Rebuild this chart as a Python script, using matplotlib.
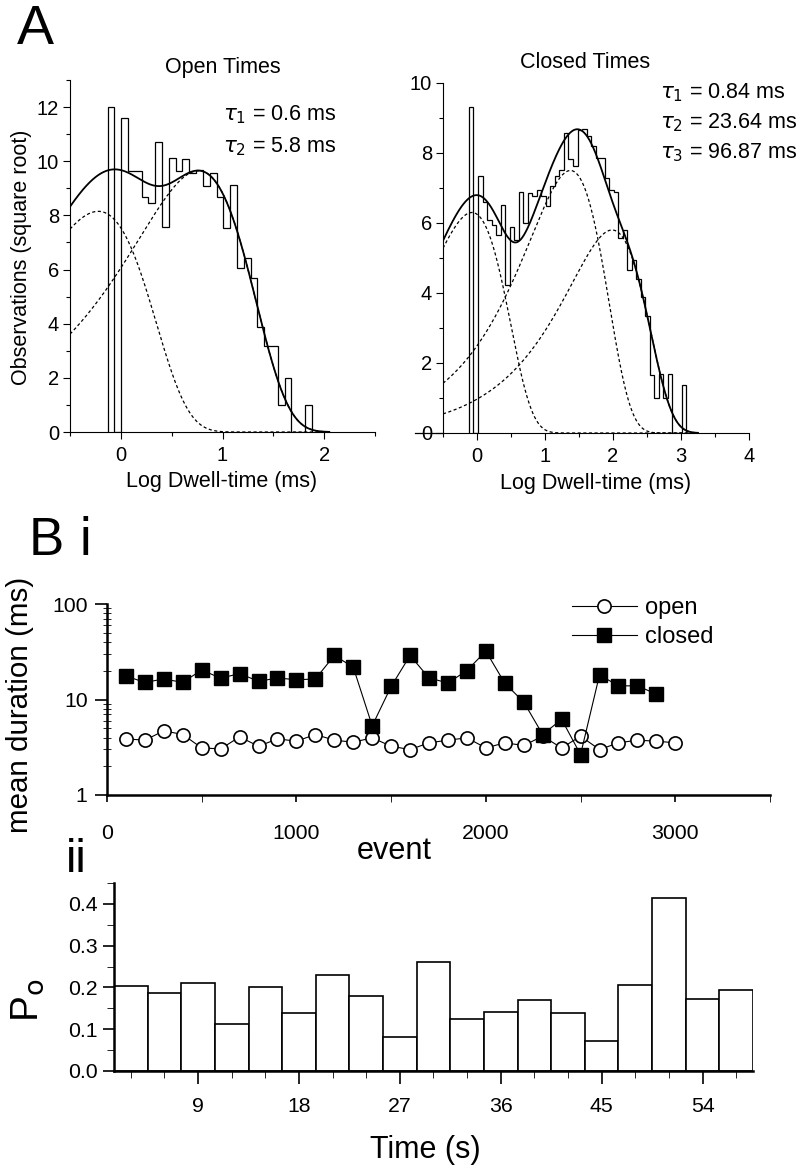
import numpy as np
import matplotlib
matplotlib.use('Agg')
import matplotlib.pyplot as plt
from matplotlib import font_manager
from matplotlib.ticker import MultipleLocator, FixedLocator, LogLocator, FuncFormatter, NullFormatter


def have_font(name):
    try:
        font_manager.findfont(font_manager.FontProperties(family=name),
                              fallback_to_default=False)
        return True
    except ValueError:
        return False


SANS = 'Liberation Sans' if have_font('Liberation Sans') else 'DejaVu Sans'
if have_font('Liberation Sans Narrow'):
    NARROW, nscale = 'Liberation Sans Narrow', 1.0
else:
    NARROW, nscale = SANS, 0.85

# ---- panel A: dwell-time histograms (square-root ordinate, log10 ms bins)
open_bin_start = -0.131
open_bin_width = 0.067
open_counts = [12.0, 0, 11.6, 9.65, 9.65, 8.67, 8.44, 10.70, 7.58, 10.13,
               9.65, 10.07, 9.55, 9.67, 9.10, 9.58, 8.68, 7.52, 9.12, 6.04,
               6.41, 5.67, 3.89, 3.17, 3.17, 0.99, 1.98, 0, 0, 0.99]
open_tau = [0.6, 5.8]
open_peak = [8.15, 9.65]

closed_bin_start = -0.118
closed_bin_width = 0.0665
closed_counts = [9.31, 0, 7.33, 6.6, 6.1, 5.95, 5.66, 6.51, 4.24, 5.89,
                 5.51, 6.9, 6.0, 6.86, 6.76, 6.93, 6.76, 6.48, 7.05, 7.33,
                 7.52, 8.57, 7.82, 7.63, 8.66, 8.68, 8.5, 8.2, 7.85, 7.85,
                 7.28, 6.94, 6.9, 5.56, 5.8, 4.66, 4.94, 4.4, 3.9, 3.35,
                 1.65, 1.0, 1.7, 1.0, 1.7, 0, 0, 1.37]
closed_tau = [0.84, 23.64, 96.87]
closed_peak = [6.3, 7.5, 5.8]

# ---- panel B i: mean durations per 100 events
open_events = [100, 200, 300, 400, 500, 600, 700, 800, 900, 1000,
               1100, 1200, 1300, 1400, 1500, 1600, 1700, 1800, 1900, 2000,
               2100, 2200, 2300, 2400, 2500, 2600, 2700, 2800, 2900, 3000]
open_mean = [3.87, 3.75, 4.7, 4.3, 3.11, 3.04, 4.06, 3.24, 3.87, 3.66,
             4.3, 3.75, 3.57, 3.97, 3.24, 2.99, 3.52, 3.75, 3.97, 3.11,
             3.52, 3.3, 4.13, 3.11, 4.13, 2.99, 3.52, 3.75, 3.66, 3.52]
closed_events = open_events[:-1]
closed_mean = [17.6, 15.1, 16.4, 15.1, 20.4, 16.7, 18.7, 15.5, 16.8, 16.1,
               16.4, 28.9, 21.8, 5.3, 13.7, 28.9, 16.8, 14.9, 20.1, 32.1,
               14.8, 9.4, 4.3, 6.2, 2.65, 18.1, 13.9, 13.9, 11.4]

# ---- panel B ii: open probability per 3 s segment
po_time = [3, 6, 9, 12, 15, 18, 21, 24, 27, 30, 33, 36, 39, 42, 45, 48, 51, 54, 57]
po_value = [0.203, 0.187, 0.210, 0.112, 0.200, 0.139, 0.229, 0.180, 0.082, 0.261,
            0.124, 0.142, 0.171, 0.139, 0.073, 0.207, 0.414, 0.173, 0.193]

W, H = 798, 1170
fig = plt.figure(figsize=(W / 100, H / 100), dpi=100)


def fx(px):
    return px / W


def fy(py):
    return 1 - py / H


def axes_px(x0, y0, x1, y1):
    return fig.add_axes([x0 / W, 1 - y1 / H, (x1 - x0) / W, (y1 - y0) / H])


def component(x, tau, peak):
    u = 10.0 ** x / tau
    return peak * np.sqrt(u * np.exp(1.0 - u))


def draw_dwell(ax, start, width, counts, taus, peaks, xmax):
    edges = start + width * np.arange(len(counts) + 1)
    ax.stairs(counts, edges, baseline=0, fill=False, color='k', lw=0.9)
    xf = np.linspace(-0.5, xmax, 600)
    comps = [component(xf, t, p) for t, p in zip(taus, peaks)]
    for c in comps:
        ax.plot(xf, c, color='k', lw=0.9, ls=(0, (2.5, 2)))
    ax.plot(xf, np.sqrt(np.sum(np.square(comps), axis=0)), color='k', lw=1.3)
    for s in ('top', 'right'):
        ax.spines[s].set_visible(False)
    ax.tick_params(which='both', direction='out', labelsize=14.5,
                   labelfontfamily=SANS, width=0.8)
    ax.tick_params(which='major', length=5, pad=3)
    ax.tick_params(which='minor', length=3)
    ax.tick_params(axis='x', pad=5)
    ax.xaxis.set_minor_locator(MultipleLocator(0.5))
    ax.yaxis.set_major_locator(MultipleLocator(2))
    ax.yaxis.set_minor_locator(MultipleLocator(1))


# ---------- A, open times
axA1 = axes_px(70, 80, 375, 432)
draw_dwell(axA1, open_bin_start, open_bin_width, open_counts, open_tau, open_peak, 2.05)
axA1.set_xlim(-0.5, 2.5)
axA1.set_ylim(0, 13)
axA1.xaxis.set_major_locator(FixedLocator([0, 1, 2]))

# ---------- A, closed times
axA2 = axes_px(443, 83, 749, 433)
draw_dwell(axA2, closed_bin_start, closed_bin_width, closed_counts, closed_tau, closed_peak, 3.25)
axA2.set_xlim(-0.5, 4)
axA2.set_ylim(0, 10)
axA2.xaxis.set_major_locator(MultipleLocator(1))
axA2.plot([-0.09, 0], [0, 0], color='k', lw=0.9, transform=axA2.transAxes, clip_on=False)

fig.text(fx(35), fy(30), 'A', fontsize=40, family=SANS, ha='center', va='center')
fig.text(fx(223), fy(68), 'Open Times', fontsize=15.5, family=SANS, ha='center', va='center')
fig.text(fx(585), fy(62), 'Closed Times', fontsize=15.5, family=SANS, ha='center', va='center')
fig.text(fx(223), fy(115), r'$\tau_1$ = 0.6 ms', fontsize=15.5, family=SANS, va='center')
fig.text(fx(223), fy(147), r'$\tau_2$ = 5.8 ms', fontsize=15.5, family=SANS, va='center')
fig.text(fx(660), fy(93), r'$\tau_1$ = 0.84 ms', fontsize=15.5, family=SANS, va='center')
fig.text(fx(660), fy(123), r'$\tau_2$ = 23.64 ms', fontsize=15.5, family=SANS, va='center')
fig.text(fx(660), fy(153), r'$\tau_3$ = 96.87 ms', fontsize=15.5, family=SANS, va='center')
fig.text(fx(22), fy(257), 'Observations (square root)', rotation=90, fontsize=15.5,
         family=SANS, ha='center', va='center')
fig.text(fx(222), fy(482), 'Log Dwell-time (ms)', fontsize=15.5, family=SANS,
         ha='center', va='center')
fig.text(fx(596), fy(484), 'Log Dwell-time (ms)', fontsize=15.5, family=SANS,
         ha='center', va='center')

# ---------- B i
axB1 = axes_px(107, 604, 770, 795)
axB1.plot(open_events, open_mean, color='k', lw=0.8, marker='o', ms=9.5,
          mfc='white', mec='k', mew=1.2, label='open')
axB1.plot(closed_events, closed_mean, color='k', lw=0.8, marker='s', ms=9.5,
          mfc='k', mec='k', label='closed')
axB1.set_yscale('log')
axB1.set_xlim(0, 3500)
axB1.set_ylim(1, 100)
axB1.xaxis.set_major_locator(MultipleLocator(1000))
axB1.xaxis.set_minor_locator(MultipleLocator(500))
axB1.yaxis.set_major_locator(LogLocator(base=10))
axB1.yaxis.set_minor_locator(LogLocator(base=10, subs=np.arange(2, 10)))
axB1.yaxis.set_major_formatter(FuncFormatter(lambda v, _: f'{v:g}'))
axB1.yaxis.set_minor_formatter(NullFormatter())
for s in ('top', 'right'):
    axB1.spines[s].set_visible(False)
for s in ('left', 'bottom'):
    axB1.spines[s].set_linewidth(1.8)
axB1.tick_params(labelsize=18 * nscale, labelfontfamily=NARROW, width=1.2)
axB1.tick_params(axis='y', which='major', direction='out', length=9, pad=5)
axB1.tick_params(axis='y', which='minor', direction='inout', length=6)
axB1.tick_params(axis='x', which='both', direction='out', length=5, pad=16)
axB1.legend(loc='upper left', bbox_to_anchor=(fx(572), fy(597)),
            bbox_transform=fig.transFigure, frameon=False, borderpad=0,
            borderaxespad=0, handlelength=2.75, handletextpad=0.35,
            labelspacing=0.3, numpoints=1,
            prop={'family': NARROW, 'size': 20 * nscale})

fig.text(fx(46), fy(541), 'B', fontsize=38, family=NARROW, ha='center', va='center')
fig.text(fx(85), fy(541), 'i', fontsize=38, family=NARROW, ha='center', va='center')
fig.text(fx(20), fy(705), 'mean duration (ms)', rotation=90, fontsize=25 * nscale,
         family=NARROW, ha='center', va='center')
fig.text(fx(394), fy(851), 'event', fontsize=26 * nscale, family=NARROW,
         ha='center', va='center')

# ---------- B ii
axB2 = axes_px(114, 883, 753, 1071)
axB2.bar(po_time, po_value, width=3, color='white', edgecolor='k', linewidth=1.2)
axB2.set_xlim(1.5, 58.5)
axB2.set_ylim(0, 0.45)
axB2.xaxis.set_major_locator(FixedLocator([9, 18, 27, 36, 45, 54]))
axB2.xaxis.set_minor_locator(MultipleLocator(3))
axB2.yaxis.set_major_locator(MultipleLocator(0.1))
axB2.yaxis.set_minor_locator(MultipleLocator(0.05))
axB2.yaxis.set_major_formatter(FuncFormatter(lambda v, _: f'{v:.1f}'))
for s in ('top', 'right'):
    axB2.spines[s].set_visible(False)
for s in ('left', 'bottom'):
    axB2.spines[s].set_linewidth(1.8)
axB2.tick_params(labelsize=18 * nscale, labelfontfamily=NARROW, width=1.2, direction='out')
axB2.tick_params(axis='x', which='major', length=9, pad=10)
axB2.tick_params(axis='x', which='minor', length=5)
axB2.tick_params(axis='y', which='major', length=8, pad=4)
axB2.tick_params(axis='y', which='minor', length=5)

fig.text(fx(76), fy(860), 'ii', fontsize=34, family=NARROW, ha='center', va='center')
fig.text(fx(28), fy(1000), r'P$_{\mathrm{o}}$', rotation=90, fontsize=28,
         family=NARROW, ha='center', va='center')
fig.text(fx(425), fy(1150), 'Time (s)', fontsize=22, family=NARROW,
         ha='center', va='center')

fig.savefig('out.png', dpi=100)
